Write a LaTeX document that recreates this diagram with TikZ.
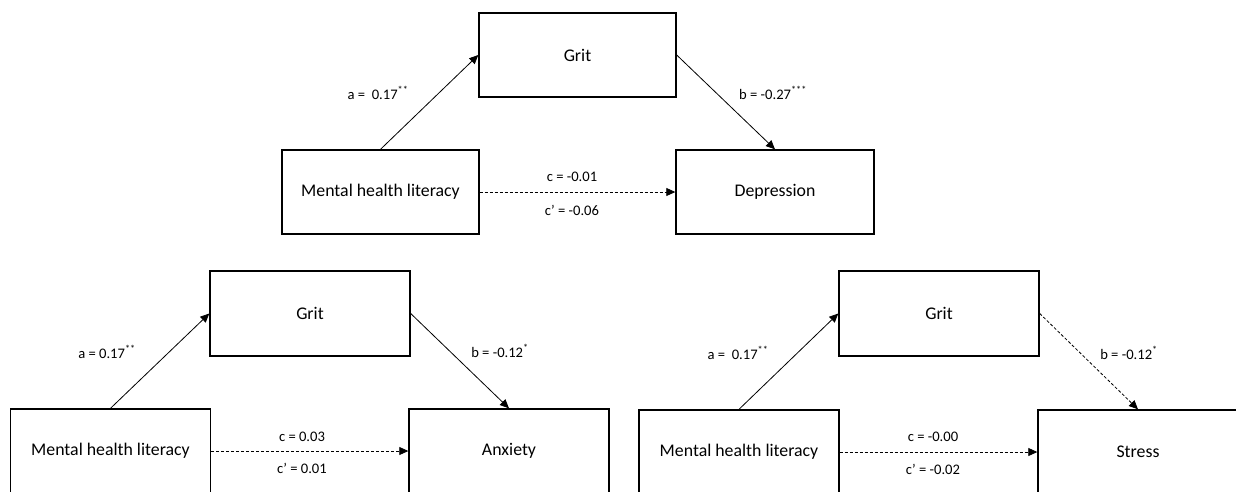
\documentclass[tikz,border=0pt]{standalone}
\usepackage{fontspec}
\setmainfont{Carlito}
\usetikzlibrary{arrows.meta}
\begin{document}
\begin{tikzpicture}[x=1pt,y=-1pt,
  box/.style={draw=black, line width=1.4pt, minimum width=197pt, minimum height=84pt, inner sep=0pt, font=\fontsize{17.8}{21}\selectfont},
  path/.style={line width=0.8pt, -{Triangle[length=9pt,width=8pt]}},
  nspath/.style={path, dash pattern=on 3pt off 2pt},
  lab/.style={inner sep=0pt, font=\fontsize{14.6}{17}\selectfont}]
\useasboundingbox (0,0) rectangle (1236,491);
\clip (0,0) rectangle (1236,491);
% top model
\node[box] (g1) at (577.5,55) {Grit};
\node[box] (m1) at (380.5,192) {Mental health literacy};
\node[box, minimum width=198pt] (d1) at (775,192) {Depression};
\draw[path] (m1.north) -- (g1.west);
\draw[path] (g1.east) -- (d1.north);
\draw[nspath] (m1.east) -- (d1.west);
\node[lab] (a1) at (378,93) {a =\ \ 0.17\textsuperscript{**}};
\node[lab] (b1) at (773,93) {b = -0.27\textsuperscript{***}};
\node[lab] (c1) at (572,177) {c = -0.01};
\node[lab] (cp1) at (572,210) {c’ = -0.06};
% bottom left model
\node[box, minimum width=200pt, minimum height=85pt] (g2) at (310,313.5) {Grit};
\node[box, minimum width=200pt] (m2) at (110.5,451) {Mental health literacy};
\node[box, minimum width=200pt] (x2) at (509,451) {Anxiety};
\draw[path] (m2.north) -- (g2.west);
\draw[path] (g2.east) -- (x2.north);
\draw[nspath] (m2.east) -- (x2.west);
\node[lab] (a2) at (107,352) {a = 0.17\textsuperscript{**}};
\node[lab] (b2) at (500,351) {b = -0.12\textsuperscript{*}};
\node[lab] (c2) at (302,437) {c = 0.03};
\node[lab] (cp2) at (302,468) {c’ = 0.01};
% bottom right model
\node[box, minimum width=200pt, minimum height=85pt] (g3) at (939,313.5) {Grit};
\node[box, minimum width=200pt] (m3) at (739,452) {Mental health literacy};
\node[box, minimum width=200pt] (s3) at (1138,452) {Stress};
\draw[path] (m3.north) -- (g3.west);
\draw[nspath] (g3.east) -- (s3.north);
\draw[nspath] (m3.east) -- (s3.west);
\node[lab] (a3) at (738,353) {a =\ \ 0.17\textsuperscript{**}};
\node[lab] (b3) at (1129,353) {b = -0.12\textsuperscript{*}};
\node[lab] (c3) at (933,437) {c = -0.00};
\node[lab] (cp3) at (933,469) {c’ = -0.02};
\end{tikzpicture}
\end{document}
